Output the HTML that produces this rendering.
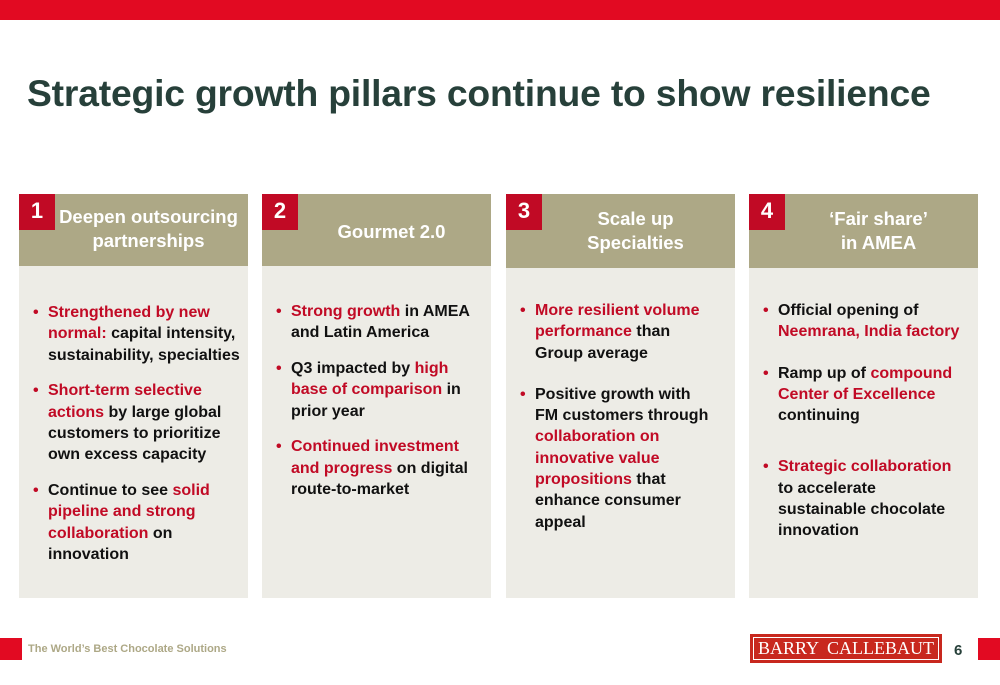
<!DOCTYPE html>
<html><head><meta charset="utf-8"><style>
*{margin:0;padding:0;box-sizing:border-box}
body{width:1000px;height:685px;background:#fff;font-family:"Liberation Sans",sans-serif;position:relative;overflow:hidden}
.topbar{position:absolute;left:0;top:0;width:1000px;height:20px;background:#e20a22}
h1{position:absolute;left:27px;top:72px;font-size:37.3px;font-weight:bold;color:#27403a;white-space:nowrap;letter-spacing:-0.2px}
.col{position:absolute;top:194px;width:229px;height:404px;background:#edece6}
.hdr{position:absolute;left:0;top:0;width:229px;height:72px;background:#ada886;color:#fff;font-weight:bold;font-size:18.5px;text-align:center;line-height:24px}
.num{position:absolute;left:0;top:0;width:36px;height:36px;background:#c10a25;color:#fff;font-size:22px;font-weight:bold;text-align:center;line-height:34px}
ul{position:absolute;left:12px;top:108px;width:215px;list-style:none;font-size:16px;font-weight:bold;line-height:21.3px;color:#111;white-space:nowrap}
li{position:relative;padding-left:17px;margin-bottom:14.5px}
li:before{content:"•";position:absolute;left:2px;color:#c10a25}
.r{color:#c10a25}
.foot{position:absolute;left:0;top:638px;width:22px;height:22px;background:#e20a22}
.foottxt{position:absolute;left:28px;top:643px;font-size:11px;font-weight:bold;color:#ada886}
.logo{position:absolute;left:750px;top:634px;width:192px;height:29px;background:#c8281e;border:2px solid #c8281e;outline:1px solid #fff;outline-offset:-4px;color:#fff;font-family:"Liberation Serif",serif;font-size:18px;line-height:25px;display:flex;justify-content:space-between;padding:0 6px}
.page{position:absolute;left:954px;top:642px;font-size:15px;font-weight:bold;color:#27403a}
.fr{position:absolute;left:978px;top:638px;width:22px;height:22px;background:#e20a22}
</style></head><body>
<div class="topbar"></div>
<h1>Strategic growth pillars continue to show resilience</h1>

<div class="col" style="left:19px">
<div class="hdr"><div style="padding:11px 0 0 30px">Deepen outsourcing<br>partnerships</div></div>
<div class="num">1</div>
<ul>
<li><span class="r">Strengthened by new<br>normal:</span> capital intensity,<br>sustainability, specialties</li>
<li><span class="r">Short-term selective<br>actions</span> by large global<br>customers to prioritize<br>own excess capacity</li>
<li>Continue to see <span class="r">solid<br>pipeline and strong<br>collaboration</span> on<br>innovation</li>
</ul></div>

<div class="col" style="left:262px">
<div class="hdr"><div style="padding:26px 0 0 30px">Gourmet 2.0</div></div>
<div class="num">2</div>
<ul style="top:107px">
<li><span class="r">Strong growth</span> in AMEA<br>and Latin America</li>
<li>Q3 impacted by <span class="r">high<br>base of comparison</span> in<br>prior year</li>
<li><span class="r">Continued investment<br>and progress</span> on digital<br>route-to-market</li>
</ul></div>

<div class="col" style="left:506px">
<div class="hdr" style="height:74px"><div style="padding:13px 0 0 30px">Scale up<br>Specialties</div></div>
<div class="num">3</div>
<ul style="top:106px">
<li><span class="r">More resilient volume<br>performance</span> than<br>Group average</li>
<li style="margin-top:20px">Positive growth with<br>FM customers through<br><span class="r">collaboration on<br>innovative value<br>propositions</span> that<br>enhance consumer<br>appeal</li>
</ul></div>

<div class="col" style="left:749px">
<div class="hdr" style="height:74px"><div style="padding:13px 0 0 30px">‘Fair share’<br>in AMEA</div></div>
<div class="num">4</div>
<ul style="top:106px">
<li>Official opening of<br><span class="r">Neemrana, India factory</span></li>
<li style="margin-top:20px">Ramp up of <span class="r">compound<br>Center of Excellence</span><br>continuing</li>
<li style="margin-top:30px"><span class="r">Strategic collaboration</span><br>to accelerate<br>sustainable chocolate<br>innovation</li>
</ul></div>

<div class="foot"></div>
<div class="foottxt">The World’s Best Chocolate Solutions</div>
<div class="logo"><span>BARRY</span><span>CALLEBAUT</span></div>
<div class="page">6</div>
<div class="fr"></div>
</body></html>
